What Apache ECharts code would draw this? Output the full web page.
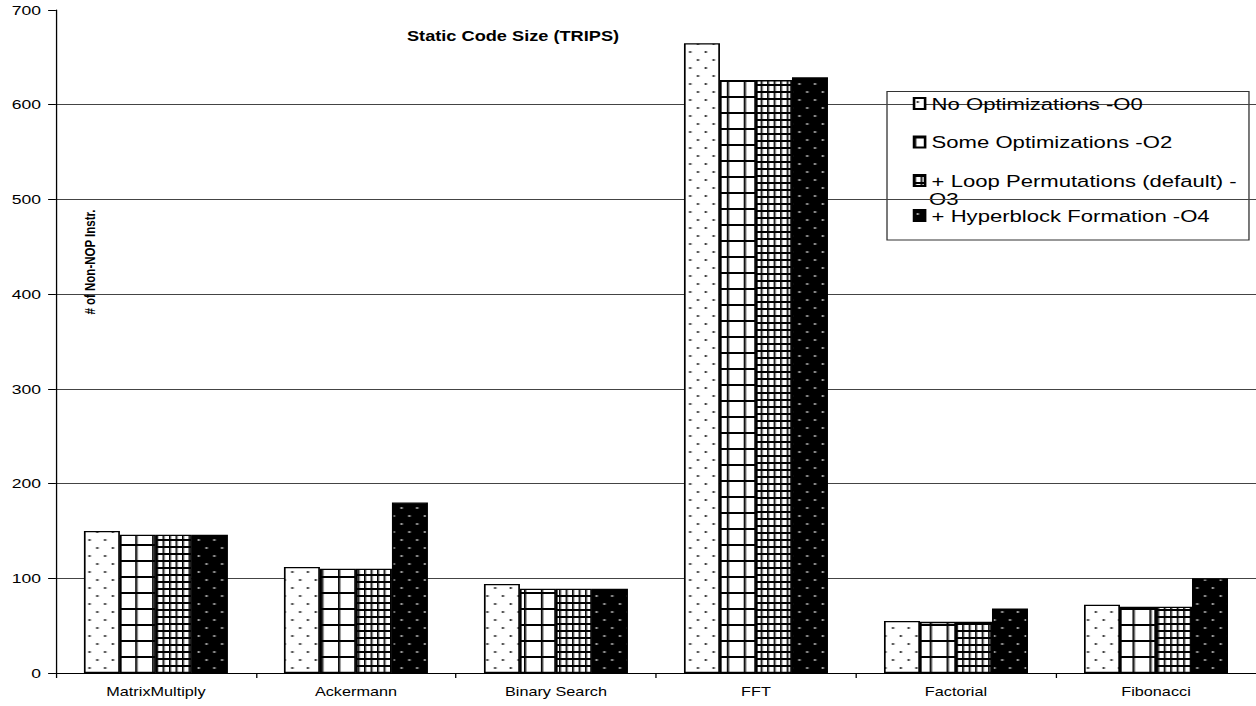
<!DOCTYPE html>
<html>
<head>
<meta charset="utf-8">
<script src="https://cdn.jsdelivr.net/npm/echarts@6/dist/echarts.min.js"></script>
<style>
  html, body { margin: 0; padding: 0; background: #fff; overflow: hidden; }
  /* the chart is laid out narrow and widened horizontally, giving the wide lettering */
  #chart { width: 966px; height: 706px; transform: scaleX(1.30021); transform-origin: 0 0; }
</style>
</head>
<body>
<div id="chart"></div>
<script>
// Benchmarks on the category axis
const categories = ['MatrixMultiply', 'Ackermann', 'Binary Search', 'FFT', 'Factorial', 'Fibonacci'];

// Optimization levels (series names)
const seriesNames = [
  'No Optimizations -O0',
  'Some Optimizations -O2',
  '+ Loop Permutations (default) -O3',
  '+ Hyperblock Formation -O4'
];

// Static code size: number of non-NOP instructions per benchmark
const sizeO0 = [150, 112, 94, 665, 55, 72];
const sizeO2 = [146, 110, 89, 626, 54, 70];
const sizeO3 = [146, 110, 89, 626, 54, 70];
const sizeO4 = [146, 180, 89, 629, 68, 100];

// Value axis ticks
const yTicks = [0, 100, 200, 300, 400, 500, 600, 700];

const FONT = "'Liberation Sans', Arial, sans-serif";

// ---- monochrome fill patterns ----
function tile(w, h, draw) {
  const c = document.createElement('canvas');
  c.width = w; c.height = h;
  draw(c.getContext('2d'));
  return { image: c, repeat: 'repeat', imageWidth: w, imageHeight: h };
}
function dotted(bg, dot) {
  return tile(12, 16, g => {
    g.fillStyle = bg; g.fillRect(0, 0, 12, 16);
    g.fillStyle = dot;
    g.fillRect(2, 3, 1.6, 2);
    g.fillRect(8, 11, 1.6, 2);
  });
}
function gridded(w, h, lw, lh) {
  return tile(w, h, g => {
    g.fillStyle = '#fff'; g.fillRect(0, 0, w, h);
    g.fillStyle = '#000';
    g.fillRect(0, 0, lw, h);
    g.fillRect(0, 0, w, lh);
  });
}
const fills = [
  dotted('#fff', '#333'),
  gridded(13, 16, 1.6, 2),
  gridded(5, 7, 1.4, 2),
  dotted('#000', '#aaa')
];
const values = [sizeO0, sizeO2, sizeO3, sizeO4];

const chart = echarts.init(document.getElementById('chart'), null, { renderer: 'svg' });

const legendText = { fontFamily: FONT, fontSize: 17, color: '#000', lineHeight: 16 };

chart.setOption({
  animation: false,
  backgroundColor: '#fff',
  title: {
    text: 'Static Code Size (TRIPS)',
    left: 313, top: 29, padding: 0,
    textStyle: { fontFamily: FONT, fontSize: 14, fontWeight: 'bold', color: '#000' }
  },
  legend: [
    {
      orient: 'vertical', left: 702, top: 95, padding: 0,
      itemGap: 21.5, itemWidth: 8.5, itemHeight: 11, icon: 'rect',
      data: seriesNames.slice(0, 3),
      formatter: n => n === seriesNames[2] ? '+ Loop Permutations (default) -' : n,
      textStyle: legendText
    },
    {
      orient: 'vertical', left: 702, top: 207, padding: 0,
      itemWidth: 8.5, itemHeight: 11, icon: 'rect',
      data: [seriesNames[3]],
      textStyle: legendText
    }
  ],
  graphic: [
    {
      type: 'rect', silent: true, z: 0,
      shape: { x: 682.2, y: 91.5, width: 278.4, height: 148.5 },
      style: { fill: '#fff', stroke: '#333', lineWidth: 1 }
    },
    {
      type: 'text', x: 714.5, y: 198.5, silent: true,
      style: { text: 'O3', font: "17px 'Liberation Sans', Arial, sans-serif", fill: '#000', verticalAlign: 'middle' }
    },
    {
      type: 'text', x: 69, y: 262, rotation: Math.PI / 2, silent: true,
      style: {
        text: '# of Non-NOP Instr.', font: "bold 11.5px 'Liberation Sans', Arial, sans-serif",
        fill: '#000', align: 'center', verticalAlign: 'middle'
      }
    }
  ],
  grid: { left: 43, right: 0, top: 10, bottom: 33, containLabel: false },
  xAxis: {
    type: 'category',
    data: categories,
    axisLine: { lineStyle: { color: '#000', width: 1 } },
    axisTick: { show: true, alignWithLabel: false, length: 5, lineStyle: { color: '#000' } },
    axisLabel: { fontFamily: FONT, fontSize: 12.5, color: '#000', margin: 12 },
    splitLine: { show: false }
  },
  yAxis: {
    type: 'value',
    min: yTicks[0], max: yTicks[yTicks.length - 1], interval: 100,
    axisLine: { show: true, lineStyle: { color: '#000', width: 1 } },
    axisTick: { show: true, length: 6, lineStyle: { color: '#000' } },
    axisLabel: { fontFamily: FONT, fontSize: 13.5, color: '#000', margin: 11.5 },
    splitLine: { show: true, showMaxLine: false, lineStyle: { color: '#444', width: 1 } }
  },
  series: seriesNames.map((name, i) => ({
    name,
    type: 'bar',
    data: values[i],
    barGap: '0%',
    barCategoryGap: '28%',
    itemStyle: { color: fills[i], borderColor: '#000', borderWidth: 1.3 },
    emphasis: { disabled: true }
  }))
});
</script>
</body>
</html>
